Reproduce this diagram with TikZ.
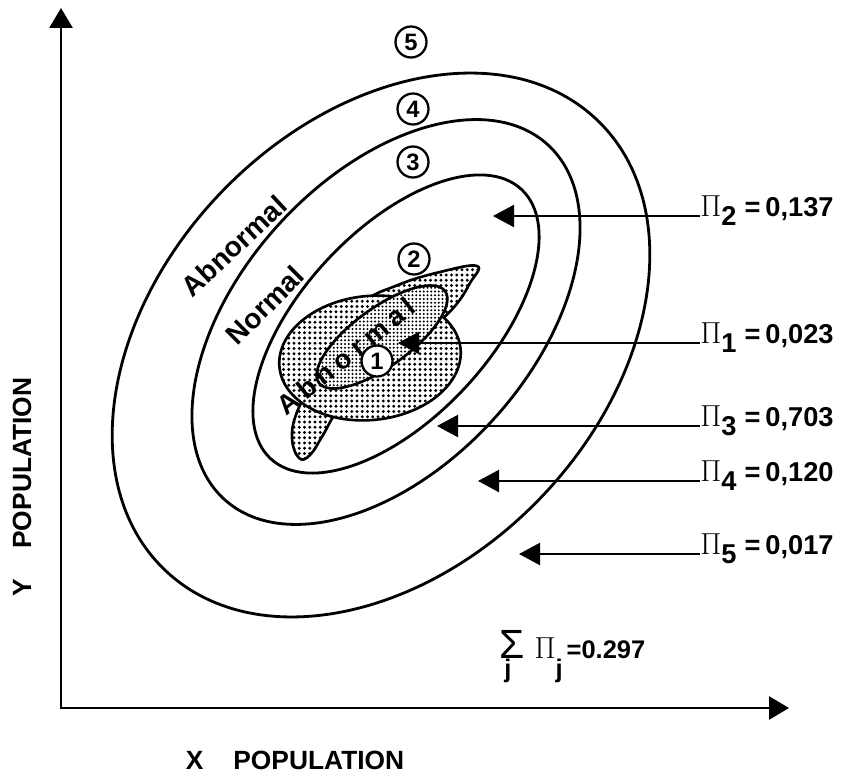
\documentclass[tikz,border=0pt]{standalone}
\usepackage{fontspec}
\setmainfont{Liberation Sans}
\usepackage{tikz}
\usetikzlibrary{arrows.meta, patterns.meta, positioning}
\tikzstyle{contour} = [line width=1.6pt]
\tikzstyle{blob} = [line width=1.5pt, preaction={fill=white}, pattern={Dots[distance=1.05mm, radius=0.32mm]}]
\tikzstyle{arrow} = [line width=1.3pt, -{Triangle[length=4.2mm, width=4.4mm]}]
\tikzstyle{axis} = [line width=1.6pt, {Triangle[length=4mm, width=4.6mm]}-{Triangle[length=4mm, width=4.6mm]}]
\tikzstyle{pilabel} = [anchor=base west, inner sep=0pt, font=\fontsize{15.5}{18}\selectfont\bfseries]
\tikzstyle{region} = [circle, draw, line width=1.3pt, fill=white, inner sep=0pt, minimum size=6.2mm, font=\fontsize{13.5}{14}\selectfont\bfseries]
\tikzstyle{zone} = [inner sep=0pt, font=\fontsize{16}{17}\selectfont\bfseries]
\tikzstyle{axislabel} = [inner sep=0pt, font=\fontsize{15}{17}\selectfont\bfseries]
\newcommand{\bigpi}{{\fontsize{18}{18}\selectfont$\Pi$}}

\begin{document}
\begin{tikzpicture}[x=0.2mm, y=-0.2mm]
\useasboundingbox (0,0) rectangle (853,779);

% axes
\coordinate (ytop) at (61,8);
\coordinate (xend) at (789,708);
\draw[axis] (ytop) |- (xend);

% contours of the populations
\draw[contour, rotate around={46:(381,345)}] (381,345) ellipse [x radius=312, y radius=221];
\draw[contour, rotate around={47.6:(386,322)}] (386,322) ellipse [x radius=240, y radius=145];
\draw[contour, rotate around={47:(396,324)}] (396,324) ellipse [x radius=184, y radius=94];

% stippled samples
\draw[blob] plot[smooth cycle, tension=0.7] coordinates {(299,458) (292,438) (297,412) (312,385) (335,345) (362,304) (398,285) (440,272) (477,266) (470,283) (455,306) (430,330) (395,360) (362,388) (338,410) (323,435) (310,455)};
\draw[blob, rotate around={6:(370,358)}] (370,358) ellipse [x radius=91, y radius=62];
\draw[blob, pattern={Dots[distance=0.75mm, radius=0.23mm]}, rotate around={36:(382,337)}] (382,337) ellipse [x radius=78, y radius=29];

% zone names
\node[zone, rotate=43] (abnouter) at (234,246) {Abnormal};
\node[zone, rotate=45] (normal) at (265,305) {Normal};
\node[zone, rotate=39, font=\fontsize{15.5}{16}\selectfont\bfseries\addfontfeature{LetterSpace=22}] (abncore) at (346,356) {Abnormal};

% regions
\node[region] (r5) at (411,42) {5};
\node[region] (r4) at (413,109) {4};
\node[region] (r3) at (413,162) {3};
\node[region] (r2) at (414,259) {2};
\node[region] (r1) at (377,361) {1};

% probabilities
\node[pilabel] (pi2) at (700,216) {\bigpi\raisebox{-0.35em}{2}\hspace{1.6mm}=\hspace{1mm}0,137};
\node[pilabel] (pi1) at (700,343) {\bigpi\raisebox{-0.35em}{1}\hspace{1.6mm}=\hspace{1mm}0,023};
\node[pilabel] (pi3) at (700,426) {\bigpi\raisebox{-0.35em}{3}\hspace{1.6mm}=\hspace{1mm}0,703};
\node[pilabel] (pi4) at (700,481) {\bigpi\raisebox{-0.35em}{4}\hspace{1.6mm}=\hspace{1mm}0,120};
\node[pilabel] (pi5) at (700,554) {\bigpi\raisebox{-0.35em}{5}\hspace{1.6mm}=\hspace{1mm}0,017};

\coordinate (t2) at (493,216);
\coordinate (t1) at (398,343);
\coordinate (t3) at (437,426);
\coordinate (t4) at (478,481);
\coordinate (t5) at (519,554);
\draw[arrow] (pi2.base west) -- (t2);
\draw[arrow] (pi1.base west) -- (t1);
\draw[arrow] (pi3.base west) -- (t3);
\draw[arrow] (pi4.base west) -- (t4);
\draw[arrow] (pi5.base west) -- (t5);

\node[pilabel, font=\fontsize{14.5}{16}\selectfont\bfseries] (sum) at (499,658) {\rlap{\raisebox{-3.8mm}{\hspace{1mm}j}}\scalebox{1.6}{\mdseries Σ}\hspace{2mm}{\fontsize{16}{16}\selectfont$\Pi$}\raisebox{-3.8mm}{j}\hspace{0.8mm}=0.297};

% axis names
\node[axislabel] (xlab) at (295,760) {X\hspace{6mm}POPULATION};
\node[axislabel, rotate=90] (ylab) at (22,487) {Y\hspace{6mm}POPULATION};
\end{tikzpicture}
\end{document}
